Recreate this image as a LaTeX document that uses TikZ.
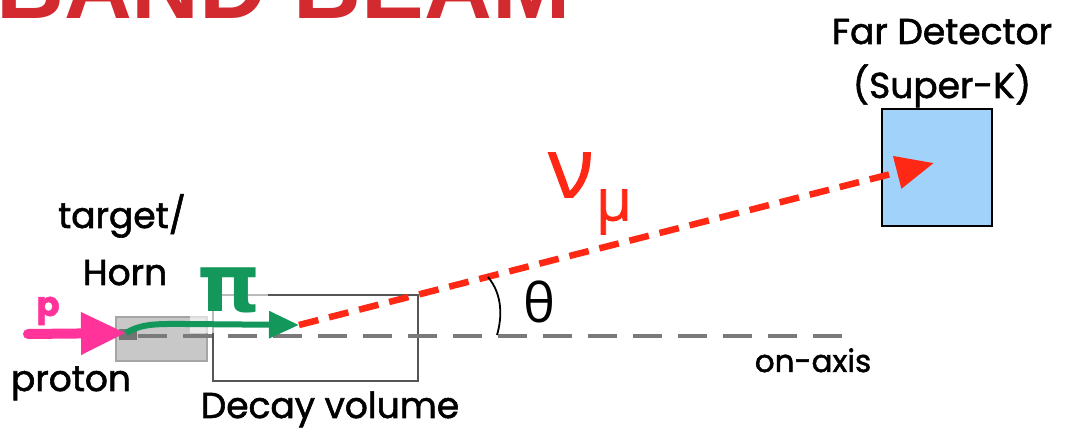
\documentclass[tikz,border=0pt]{standalone}
\usepackage{fontspec}
\setmainfont{Poppins}[FakeBold=1.6]
\newfontfamily\greekfont{Open Sans}
\newfontfamily\nufont{Open Sans}[FakeBold=1.2]
\newfontfamily\pionfont{DejaVu Sans}
\newfontfamily\titlefont{Liberation Sans}
\usetikzlibrary{arrows.meta}
\definecolor{BannerRed}{HTML}{D32A30}
\definecolor{NuRed}{HTML}{FF2814}
\definecolor{PionGreen}{HTML}{13975A}
\definecolor{ProtonPink}{HTML}{FF3399}
\definecolor{TankBlue}{HTML}{A0D2FA}
\definecolor{HornGray}{HTML}{C8C8C8}
\definecolor{HornEdge}{HTML}{A5A5A5}
\definecolor{AxisGray}{HTML}{7A7A7A}
\definecolor{VolumeGray}{HTML}{555555}

\begin{document}
\begin{tikzpicture}[x=1pt, y=-1pt,
    lbl/.style={font=\fontsize{36}{40}\selectfont, inner sep=0pt},
    greek/.style={font=\greekfont\fontsize{#1}{#1}\selectfont, inner sep=0pt},
    nu/.style={font=\nufont\fontsize{#1}{#1}\selectfont, inner sep=0pt, text=NuRed},
    hornbox/.style={rectangle, draw=HornEdge, fill=HornGray, line width=1.2pt, inner sep=0pt},
    volbox/.style={rectangle, draw=VolumeGray, line width=1.5pt, inner sep=0pt},
    axisline/.style={draw=AxisGray, line width=3.3pt, dash pattern=on 29pt off 16pt},
    nubeam/.style={draw=NuRed, line width=6.5pt, dash pattern=on 20pt off 11pt, -{Triangle[length=38pt, width=32pt]}},
    pibeam/.style={draw=PionGreen, line width=6pt, -{Triangle[length=30pt, width=26pt]}},
    pbeam/.style={draw=ProtonPink, line width=10pt, line cap=round, -{Triangle[length=45pt, width=40pt]}}
]
\useasboundingbox (0,0) rectangle (1066,435);

\begin{scope}
\clip (0,0) rectangle (1066,435);
\node[anchor=base west, inner sep=0pt, text=BannerRed, font=\titlefont\bfseries\fontsize{94}{94}\selectfont] (banner) at (-4,19) {BAND BEAM};
\end{scope}

\coordinate (pstart) at (28,334);
\coordinate (hornin) at (126,333);
\coordinate (pitip) at (299,325);
\coordinate (hit) at (934,163);
\coordinate (axstart) at (138,336);
\coordinate (axend) at (842,336);

\node[hornbox, minimum width=91pt, minimum height=44pt] (horn) at (161.5,339) {};
\node[rectangle, fill=HornEdge!70!black, minimum width=18pt, minimum height=11pt, inner sep=0pt] (target) at (128,334.5) {};
\node[volbox, minimum width=205pt, minimum height=86pt] (decay) at (315.5,338) {};
\node[rectangle, draw=black, line width=1.2pt, fill=TankBlue, minimum width=110pt, minimum height=117pt] (superk) at (937,167.5) {};

\draw[axisline] (axstart) -- (axend);
\fill[white, opacity=.6] (190,265) rectangle (268,333);
\node[text=PionGreen, font=\pionfont\bfseries\fontsize{80}{80}\selectfont, inner sep=0pt] (pion) at (229,290) {π};

\draw[pibeam] (hornin) .. controls (142,323) and (160,324) .. (185,324) -- (pitip);
\draw[nubeam] (pitip) -- (hit);
\draw[pbeam] (pstart) -- (hornin);
\draw[line width=1.8pt] (488,277) .. controls (503,295) and (502,318) .. (497,335);

\node[lbl, anchor=base] (farA) at (942,44) {Far Detector};
\node[lbl, anchor=base] (farB) at (942,98) {(Super-K)};
\node[lbl, anchor=base] (tgt) at (122,228) {target/};
\node[lbl, anchor=base] (hornlbl) at (125,285) {Horn};
\node[lbl, anchor=base, text=ProtonPink, font=\bfseries\fontsize{34}{34}\selectfont] (plbl) at (48,316) {p};
\node[lbl, anchor=base] (protonlbl) at (71,391) {proton};
\node[lbl, anchor=base] (decaylbl) at (330,418) {Decay volume};
\node[lbl, anchor=base, font=\fontsize{31}{31}\selectfont] (axislbl) at (813,372) {on-axis};
\node[greek=54] (theta) at (539,302) {θ};
\node[nu=84] (nulbl) at (571,175) {ν};
\node[nu=58] (mulbl) at (614,212) {μ};
\end{tikzpicture}
\end{document}
